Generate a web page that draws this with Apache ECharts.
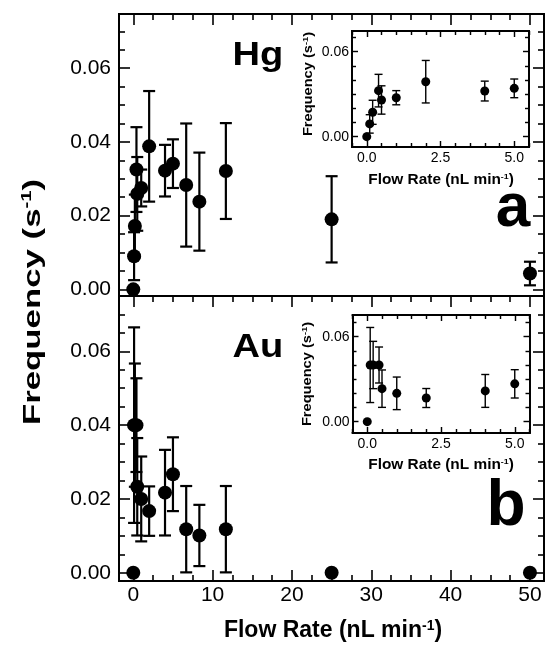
<!DOCTYPE html>
<html>
<head>
<meta charset="utf-8">
<script src="https://cdn.jsdelivr.net/npm/echarts@6/dist/echarts.min.js"></script>
<style>
  html, body { margin: 0; padding: 0; background: #fff; }
  #chart { width: 545px; height: 650px; }
</style>
</head>
<body>
<div id="chart"></div>
<script>
// Flow rates (nL/min) shared by both metals
const flowRate = [0, 0.1, 0.2, 0.4, 0.5, 1, 2, 4, 5, 6.67, 8.33, 11.67, 25, 50];
// Hg event frequency (1/s) and its error
const hgFreq = [0, 0.009, 0.0172, 0.0325, 0.0259, 0.0275, 0.0388, 0.0322, 0.0341, 0.0283, 0.0238, 0.0321, 0.019, 0.0043];
const hgErr  = [0, 0.0065, 0.0085, 0.0115, 0.01, 0.005, 0.015, 0.007, 0.0066, 0.0167, 0.0133, 0.013, 0.0117, 0.0032];
// Au event frequency (1/s) and its error
const auFreq = [0, 0.04, 0.04, 0.04, 0.0233, 0.02, 0.0167, 0.0217, 0.0267, 0.0118, 0.0101, 0.0118, 0, 0];
const auErr  = [0, 0.0265, 0.0167, 0.0127, 0.0132, 0.0115, 0.0067, 0.0116, 0.01, 0.0117, 0.0083, 0.0117, 0, 0];

// Tick labels
const mainXTicks = [0, 10, 20, 30, 40, 50];
const mainYTicks = [0, 0.02, 0.04, 0.06];
const insetXTicks = [0, 2.5, 5];
const insetYTicks = [0, 0.06];
const insetMaxFlow = 5;

const FONT = "'Liberation Sans', Arial, Helvetica, sans-serif";

function steps(a, b, step, skip) {
  const out = [];
  for (let v = a; v <= b + 1e-9; v += step) {
    const r = +v.toFixed(6);
    if (!skip.some(s => Math.abs(s - r) < 1e-9)) out.push(r);
  }
  return out;
}

const xAxes = [], yAxes = [];

// Adds a major (optionally labelled) axis and a minor-tick axis at the same edge.
function edge(list, grid, pos, min, max, majors, minors, majLen, minLen, lineW, label) {
  const base = {
    type: 'value', gridIndex: grid, position: pos, min: min, max: max,
    splitLine: { show: false },
    axisLine: { show: true, onZero: false, lineStyle: { color: '#000', width: lineW } }
  };
  const first = list.length;
  list.push(Object.assign({}, base, {
    axisTick: { show: true, inside: true, length: majLen, customValues: majors,
      lineStyle: { color: '#000', width: lineW * 0.8 } },
    axisLabel: label ? Object.assign({ show: true, customValues: majors, color: '#000',
      fontFamily: FONT }, label) : { show: false }
  }));
  list.push(Object.assign({}, base, {
    axisTick: { show: true, inside: true, length: minLen, customValues: minors,
      lineStyle: { color: '#000', width: lineW * 0.8 } },
    axisLabel: { show: false }
  }));
  return first;
}

function panel(grid, yMin, yMax, showX) {
  const xMin = -1.8, xMax = 51.77;
  const xMinor = steps(0, 50, 2.5, mainXTicks);
  const yMinor = steps(0, 0.07, 0.005, mainYTicks);
  const xi = edge(xAxes, grid, 'bottom', xMin, xMax, mainXTicks, showX ? xMinor : [], showX ? 11 : 0, 6, 2,
    showX ? { fontSize: 21, margin: 4, formatter: v => String(v) } : null);
  edge(xAxes, grid, 'top', xMin, xMax, mainXTicks, xMinor, 11, 6, 2, null);
  const yi = edge(yAxes, grid, 'left', yMin, yMax, mainYTicks, yMinor, 11, 6, 2,
    { fontSize: 21, margin: 8, formatter: v => v.toFixed(2) });
  edge(yAxes, grid, 'right', yMin, yMax, mainYTicks, yMinor, 11, 6, 2, null);
  return [xi, yi];
}

function inset(grid, yMin, yMax) {
  const xMin = -0.5, xMax = 5.5;
  const xMinor = steps(-0.5, 5.5, 0.5, insetXTicks);
  const yMinor = steps(0, 0.07, 0.01, insetYTicks);
  const xi = edge(xAxes, grid, 'bottom', xMin, xMax, insetXTicks, xMinor, 6, 4, 1.8,
    { fontSize: 14, margin: 4, formatter: v => v.toFixed(1) });
  edge(xAxes, grid, 'top', xMin, xMax, insetXTicks, xMinor, 6, 4, 1.8, null);
  const yi = edge(yAxes, grid, 'left', yMin, yMax, insetYTicks, yMinor, 6, 4, 1.8,
    { fontSize: 14, margin: 3, formatter: v => v.toFixed(2) });
  edge(yAxes, grid, 'right', yMin, yMax, insetYTicks, yMinor, 6, 4, 1.8, null);
  return [xi, yi];
}

const grids = [
  { left: 119, top: 14, width: 425, height: 282 },
  { left: 119, top: 296, width: 425, height: 285 },
  { left: 352, top: 31, width: 177, height: 116 },
  { left: 352.5, top: 315, width: 177, height: 118 }
];

const pHg = panel(0, -0.0018, 0.0747, false);
const pAu = panel(1, -0.00224, 0.075, true);
const iHg = inset(2, -0.0073, 0.0746);
const iAu = inset(3, -0.008, 0.0753);

function rows(freq, err, maxFlow) {
  const out = [];
  flowRate.forEach((f, i) => { if (f <= maxFlow) out.push([f, freq[i], err[i]]); });
  return out;
}

function errorBars(cap, width) {
  return function (params, api) {
    const x = api.value(0), y = api.value(1), e = api.value(2);
    if (!e) return null;
    const t = api.coord([x, y + e]);
    const b = api.coord([x, y - e]);
    const st = { stroke: '#000', lineWidth: width };
    return {
      type: 'group',
      children: [
        { type: 'line', shape: { x1: t[0], y1: t[1], x2: b[0], y2: b[1] }, style: st },
        { type: 'line', shape: { x1: t[0] - cap, y1: t[1], x2: t[0] + cap, y2: t[1] }, style: st },
        { type: 'line', shape: { x1: b[0] - cap, y1: b[1], x2: b[0] + cap, y2: b[1] }, style: st }
      ]
    };
  };
}

function pair(axes, data, size, cap, lw) {
  return [
    { type: 'custom', xAxisIndex: axes[0], yAxisIndex: axes[1], data: data,
      encode: { x: 0, y: 1 }, renderItem: errorBars(cap, lw), silent: true, clip: false },
    { type: 'scatter', xAxisIndex: axes[0], yAxisIndex: axes[1], data: data.map(d => [d[0], d[1]]),
      symbol: 'circle', symbolSize: size, itemStyle: { color: '#000', opacity: 1 }, silent: true, clip: false }
  ];
}

const series = [].concat(
  pair(pHg, rows(hgFreq, hgErr, Infinity), 14, 6, 2.2),
  pair(pAu, rows(auFreq, auErr, Infinity), 14, 6, 2.2),
  pair(iHg, rows(hgFreq, hgErr, insetMaxFlow), 9, 4, 1.4),
  pair(iAu, rows(auFreq, auErr, insetMaxFlow), 9, 4, 1.4)
);

function label(text, x, y, size, opts) {
  opts = opts || {};
  const supSize = Math.round(size * 0.6);
  return {
    type: 'text', x: x, y: y, rotation: opts.rotation || 0,
    scaleX: opts.scaleX || 1, scaleY: opts.scaleY || 1, z: 100,
    style: {
      text: text, fill: '#000', align: 'center', verticalAlign: 'middle',
      font: 'bold ' + size + 'px ' + FONT,
      rich: {
        a: { fontSize: size, fontWeight: 'bold', fontFamily: FONT, fill: '#000' },
        s: { fontSize: supSize, fontWeight: 'bold', fontFamily: FONT, fill: '#000',
             padding: [0, 0, Math.round(size * 0.45), 0] }
      }
    }
  };
}

const flowTitle = '{a|Flow Rate (nL min}{s|-1}{a|)}';
const freqTitle = '{a|Frequency (s}{s|-1}{a|)}';

const graphic = [
  label(freqTitle, 33, 302, 24, { rotation: Math.PI / 2, scaleX: 1.45 }),
  label(flowTitle, 333, 631, 23),
  label('Hg', 258, 56, 34, { scaleX: 1.12 }),
  label('Au', 258, 348, 34, { scaleX: 1.12 }),
  label('a', 513, 209, 62),
  label('b', 506, 507, 64),
  label(flowTitle, 441, 180, 14, { scaleX: 1.1 }),
  label(flowTitle, 441, 465, 14, { scaleX: 1.1 }),
  label(freqTitle, 309, 84, 12.5, { rotation: Math.PI / 2, scaleX: 1.17 }),
  label(freqTitle, 308, 374, 12.5, { rotation: Math.PI / 2, scaleX: 1.17 })
];

const chart = echarts.init(document.getElementById('chart'), null, { renderer: 'canvas' });
chart.setOption({
  animation: false,
  backgroundColor: '#fff',
  grid: grids,
  xAxis: xAxes,
  yAxis: yAxes,
  series: series,
  graphic: graphic
});
</script>
</body>
</html>
